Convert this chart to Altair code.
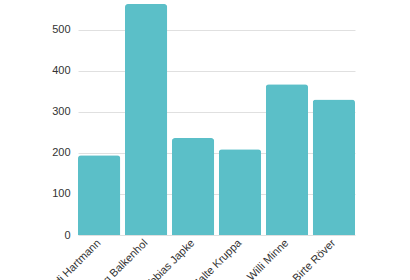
import altair as alt
import pandas as pd

names = ["Heidi Hartmann", "Jörg Balkenhol", "Tobias Japke", "Malte Kruppa", "Prof. Willi Minne", "Dr. Birte Röver"]
values = [194, 562, 236, 209, 367, 330]

df = pd.DataFrame({"name": names, "value": values})

chart = alt.Chart(df).mark_bar(color="#5bbfc8", cornerRadiusTopLeft=3, cornerRadiusTopRight=3).encode(
    x=alt.X("name:N", sort=names, title=None,
            scale=alt.Scale(paddingInner=0.1, paddingOuter=0),
            axis=alt.Axis(labelAngle=-45, labelAlign="right", labelBaseline="middle",
                          domain=False, ticks=False, labelFontSize=11, labelColor="#333333",
                          labelFont="Liberation Sans", labelPadding=6)),
    y=alt.Y("value:Q", title=None,
            scale=alt.Scale(domain=[0, 572], nice=False),
            axis=alt.Axis(values=[0, 100, 200, 300, 400, 500], domain=False, ticks=False,
                          labelFontSize=11, labelColor="#333333", labelFont="Liberation Sans",
                          labelPadding=8, gridColor="#e0e0e0")),
).properties(
    width=277, height=235,
    autosize=alt.AutoSizeParams(type="none"),
    padding={"left": 78, "top": 0, "right": 55, "bottom": 45},
).configure_view(stroke=None)

chart.save("out.html", embed_options={"renderer": "svg", "actions": False})
